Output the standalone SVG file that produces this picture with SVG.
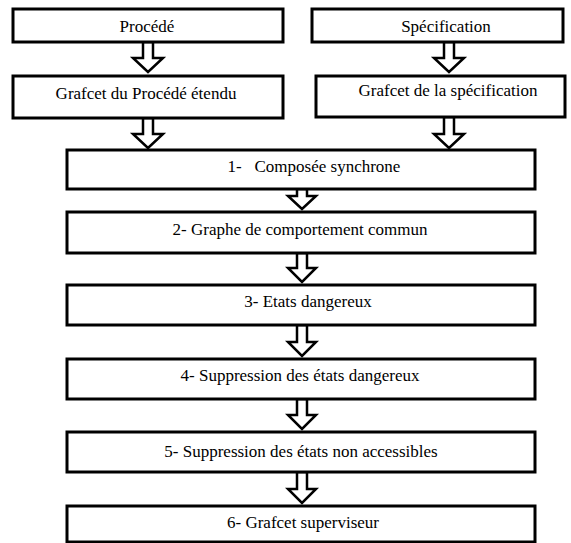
<svg xmlns="http://www.w3.org/2000/svg" width="571" height="543" viewBox="0 0 571 543">
<style>
.box{fill:#fff;stroke:#000;stroke-width:3}
.arr{fill:#fff;stroke:#000;stroke-width:2.5;stroke-linejoin:miter}
text{font-family:'Liberation Serif','Times New Roman',serif;font-size:17px;fill:#000;text-anchor:middle}
</style>
<rect width="571" height="543" fill="#fff"/>
<g id="connectors">
<path class="arr" d="M143,42 V58 H133 L148,72 L163,58 H153 V42 Z"/>
<path class="arr" d="M444,42 V58 H434 L449,72 L464,58 H454 V42 Z"/>
<path class="arr" d="M143,118 V134 H133 L148,148 L163,134 H153 V118 Z"/>
<path class="arr" d="M444,117 V134 H434 L449,148 L464,134 H454 V117 Z"/>
<path class="arr" d="M297,189 V196 H288 L302,209 L316,196 H307 V189 Z"/>
<path class="arr" d="M297,253 V268 H288 L302,282 L316,268 H307 V253 Z"/>
<path class="arr" d="M297,325 V342 H288 L302,356 L316,342 H307 V325 Z"/>
<path class="arr" d="M297,399 V415 H288 L302,429 L316,415 H307 V399 Z"/>
<path class="arr" d="M297,472 V489 H288 L302,503 L316,489 H307 V472 Z"/>
</g>
<g id="procede"><rect class="box" x="13" y="9" width="270" height="33"/><text x="147" y="32">Procédé</text></g>
<g id="specification"><rect class="box" x="312" y="9" width="251" height="33"/><text x="446" y="32">Spécification</text></g>
<g id="grafcet-procede"><rect class="box" x="13" y="76" width="270" height="42"/><text x="146" y="99">Grafcet du Procédé étendu</text></g>
<g id="grafcet-spec"><rect class="box" x="316" y="76" width="249" height="41"/><text x="448" y="96">Grafcet de la spécification</text></g>
<g id="step1"><rect class="box" x="67" y="150" width="468" height="39"/><text x="314" y="172" xml:space="preserve">1-   Composée synchrone</text></g>
<g id="step2"><rect class="box" x="67" y="212" width="468" height="41"/><text x="300" y="235">2- Graphe de comportement commun</text></g>
<g id="step3"><rect class="box" x="67" y="285" width="468" height="40"/><text x="308" y="307">3- Etats dangereux</text></g>
<g id="step4"><rect class="box" x="67" y="359" width="468" height="40"/><text x="300" y="381">4- Suppression des états dangereux</text></g>
<g id="step5"><rect class="box" x="67" y="432" width="468" height="40"/><text x="301" y="457">5- Suppression des états non accessibles</text></g>
<g id="step6"><rect class="box" x="67" y="506" width="468" height="36"/><text x="303" y="528">6- Grafcet superviseur</text></g>
</svg>
